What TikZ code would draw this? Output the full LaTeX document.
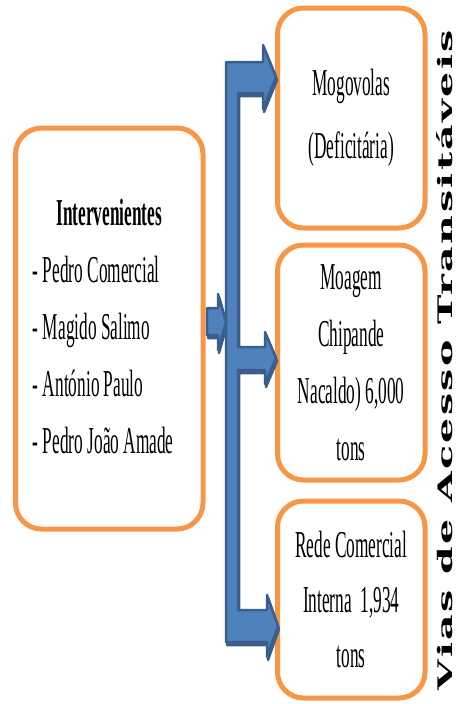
\documentclass[tikz,border=0pt]{standalone}
\usepackage{fontspec}
\usepackage{graphicx}
\setmainfont{Liberation Serif}
% narrow old-style serif for the card texts
\newfontfamily\gara[FakeStretch=0.455]{Liberation Serif}
% wide bold serif for the side banner
\newfontfamily\banner[LetterSpace=6]{DejaVu Serif}

\definecolor{cardorange}{HTML}{F79646}
\definecolor{arrowblue}{HTML}{4F81BD}
\definecolor{arrowdark}{HTML}{3A5F8F}

\begin{document}
\begin{tikzpicture}[x=1pt,y=-1pt,
  card/.style={draw=cardorange, line width=5pt, rounded corners=26pt,
    fill=white, inner sep=0pt, align=center,
    font=\gara\fontsize{38}{57}\selectfont},
  blockarrow/.style={fill=arrowblue, draw=arrowdark, line width=2.5pt,
    line join=round},
  arrowshade/.style={fill=arrowdark, draw=arrowdark, line width=2.5pt,
    line join=round}
]
\useasboundingbox (0,0) rectangle (457,704);

% ---- cards ----
\node[card, minimum width=187.5pt, minimum height=401pt] (actors) at (109.25,328.5)
  {\begin{tabular}{@{}l@{\hspace{12pt}}}
   \multicolumn{1}{@{\hspace{6pt}}c@{\hspace{6pt}}}{\bfseries Intervenientes}\\
   - Pedro Comercial\\
   - Magido Salimo\\
   - António Paulo\\
   - Pedro João Amade
   \end{tabular}};

\node[card, minimum width=147.5pt, minimum height=220pt,
  font=\gara\fontsize{38}{63}\selectfont] (mogovolas) at (351.25,118)
  {Mogovolas\\(Deficitária)};

\node[card, minimum width=147.5pt, minimum height=235pt] (moagem) at (351.25,362.5)
  {Moagem\\Chipande\\Nacaldo) 6,000\\tons};

\node[card, minimum width=147.5pt, minimum height=197pt,
  font=\gara\fontsize{38}{55}\selectfont] (rede) at (351.25,599.5)
  {Rede Comercial\\Interna\ \ 1,934\\tons};

% ---- side banner: cap height 14.6pt, run length 660pt ----
\node[rotate=90, inner sep=0pt] (vias) at (445,360)
  {\resizebox{660pt}{14.6pt}{\fontsize{20}{24}\banner\bfseries
    \smash{Vias de Acesso Transitáveis}\rule{0pt}{\fontcharht\font`V}}};

% ---- bracket connector with block arrows ----
\def\bracketpath{(226,62) -- (263,62) -- (263,45) -- (276,77) -- (263,109)
  -- (263,93) -- (238,93) -- (238,347) -- (265,347) -- (265,332) -- (276,358)
  -- (265,384) -- (265,370) -- (238,370) -- (238,610) -- (267,610) -- (267,595)
  -- (278,626) -- (267,657) -- (267,642) -- (226,642) -- cycle}
\def\feedpath{(207,308) -- (218,308) -- (218,294) -- (226,322) -- (218,350)
  -- (218,335) -- (207,335) -- cycle}

\begin{scope}[shift={(1,3)}]
  \path[arrowshade] \bracketpath;
  \path[arrowshade] \feedpath;
\end{scope}
\path[blockarrow] \bracketpath;
\path[blockarrow] \feedpath;
\end{tikzpicture}
\end{document}
